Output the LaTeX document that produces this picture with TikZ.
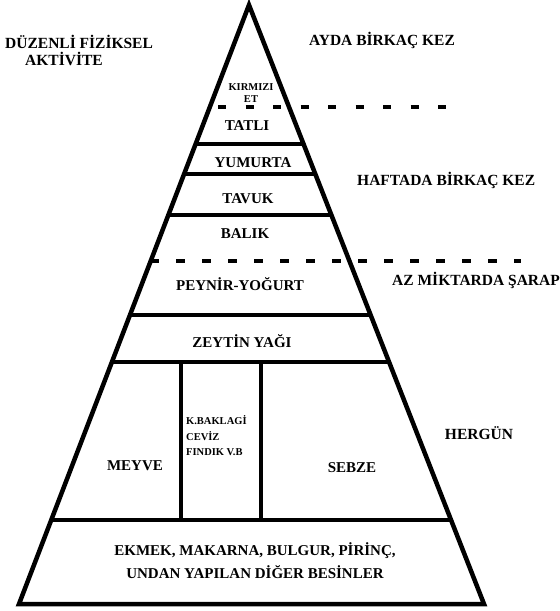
\documentclass[tikz,border=0pt]{standalone}
\usepackage{fontspec}
\setmainfont{Liberation Serif}
\usetikzlibrary{calc}
\tikzset{
    edge/.style={line width=4.5pt},
    layer/.style={line width=3.5pt},
    dots/.style={line width=4.5pt,line cap=butt},
    side/.style={inner sep=0pt,font=\fontsize{15.5}{17}\selectfont\bfseries},
    food/.style={inner sep=0pt,font=\fontsize{15}{23}\selectfont\bfseries},
    tiny/.style={inner sep=0pt,font=\fontsize{10.5}{15.5}\selectfont\bfseries}
}
\begin{document}
\begin{tikzpicture}[line cap=round,line join=round,x=1pt,y=-1pt]
                \useasboundingbox (0,0) rectangle (560,611);
                \coordinate (apex) at (249,5);
                \coordinate (bl) at (19,604);
                \coordinate (br) at (484,604);
                \draw [edge,line join=miter] (bl) -- (apex) -- (br) -- cycle;
                \foreach \yy in {144,174,215,315,362,520}
                    \draw [layer] ($(apex)!{(\yy-5)/599}!(bl)$) -- ($(apex)!{(\yy-5)/599}!(br)$);
                \draw [layer] (181,362) -- (181,520);
                \draw [layer] (261,362) -- (261,520);
                \draw [dots,dash pattern=on 8pt off 19.5pt] (218,107) -- (447,107);
                \draw [dots,dash pattern=on 9pt off 17pt] (150,261) -- (521,261);
                % labels outside
                \node [side,anchor=base west] (duzenli) at (5,48) {DÜZENLİ FİZİKSEL};
                \node [side,anchor=base west] (aktivite) at (25,65) {AKTİVİTE};
                \node [side,anchor=base] (ayda) at (382,45) {AYDA BİRKAÇ KEZ};
                \node [side,anchor=base west] (haftada) at (357,185) {HAFTADA BİRKAÇ KEZ};
                \node [side,anchor=base west] (sarap) at (392,285) {AZ MİKTARDA ŞARAP};
                \node [side,anchor=base] (hergun) at (479,439) {HERGÜN};
                % labels inside (base = last line)
                \node [tiny,anchor=base,align=center] (kirmizi) at (251,102.5) {KIRMIZI\\[-3.5pt]ET};
                \node [food,anchor=base] (tatli) at (247,130) {TATLI};
                \node [food,anchor=base] (yumurta) at (253,167) {YUMURTA};
                \node [food,anchor=base] (tavuk) at (248,203) {TAVUK};
                \node [food,anchor=base] (balik) at (245,238) {BALIK};
                \node [food,anchor=base] (peynir) at (240,290) {PEYNİR-YOĞURT};
                \node [food,anchor=base] (zeytin) at (242,347) {ZEYTİN YAĞI};
                \node [food,anchor=base] (meyve) at (135,470) {MEYVE};
                \node [tiny,anchor=base west,align=left] (baklagil) at (186,455.5) {K.BAKLAGİ\\CEVİZ\\FINDIK V.B};
                \node [food,anchor=base] (sebze) at (352,472) {SEBZE};
                \node [food,anchor=base,align=center] (ekmek) at (255,578) {EKMEK, MAKARNA, BULGUR, PİRİNÇ,\\UNDAN YAPILAN DİĞER BESİNLER};
            \end{tikzpicture}
\end{document}
